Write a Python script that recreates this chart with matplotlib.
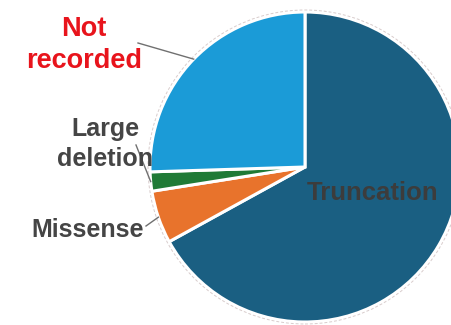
import numpy as np
import matplotlib.pyplot as plt

plt.rcParams['font.family'] = ['Liberation Sans', 'DejaVu Sans']

# mutation types, clockwise from 12 o'clock
labels = ['Truncation', 'Missense', 'Large deletion', 'Not recorded']
shares = [67.0, 5.5, 2.0, 25.5]
colors = ['#1a5f82', '#e8732c', '#1f7a36', '#1b9bd7']

fig = plt.figure(figsize=(4.51, 3.25), dpi=100)
ax = fig.add_axes([0, 0, 1, 1])

cx, cy, r = 305, 158, 155
wedges, _ = ax.pie(shares, colors=colors, startangle=90, counterclock=False,
                   center=(cx, cy), radius=r, frame=False,
                   wedgeprops=dict(edgecolor='white', linewidth=2.2))

# faint dashed outline round the pie
ax.add_patch(plt.Circle((cx, cy), r + 2, fill=False, ls=(0, (3, 2)),
                        lw=0.7, color='#d8cccc'))

ax.set_xlim(0, 451)
ax.set_ylim(0, 325)
ax.set_aspect('equal')
ax.axis('off')

txt = dict(fontweight='bold', ha='center', va='center')

# labels outside, with leader lines to the middle of their wedge
outside = {
    'Not recorded': ((84, 280), 'Not\nrecorded', '#e8141c', 19.5, 1.35, (138, 282)),
    'Large deletion': ((105, 181), 'Large\ndeletion', '#454545', 18, 1.3, (136, 180)),
    'Missense': ((88, 95), 'Missense', '#454545', 18, 1.2, (146, 99)),
}
for w, lab in zip(wedges, labels):
    mid = np.deg2rad((w.theta1 + w.theta2) / 2)
    if lab in outside:
        pos, text, col, fs, ls, start = outside[lab]
        ax.text(pos[0], pos[1], text, color=col, fontsize=fs, linespacing=ls, **txt)
        ex, ey = cx + r * np.cos(mid), cy + r * np.sin(mid)
        ax.plot([start[0], ex], [start[1], ey], color='#707070', lw=1)
    else:
        ax.text(373, 132, lab, color='#3c3c3c', fontsize=18.5, **txt)

fig.savefig('out.png', dpi=100)
